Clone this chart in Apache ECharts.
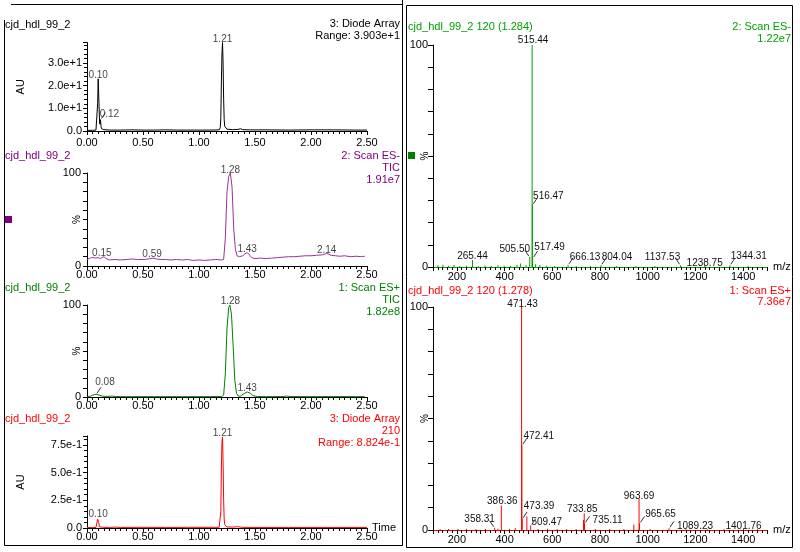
<!DOCTYPE html>
<html><head><meta charset="utf-8">
<script src="https://cdn.jsdelivr.net/npm/echarts@6/dist/echarts.min.js"></script>
<style>html,body{margin:0;padding:0;background:#fff}#c{width:800px;height:552px}</style>
</head><body><div id="c"></div>
<script>
// ---------------- DATA ----------------
// Chromatograms: [time (min), intensity]
const dadTrace = [[0.00,0.3],[0.05,0.3],[0.08,0.4],[0.09,0.8],[0.095,12],[0.100,23],[0.104,17],[0.108,17],[0.112,4],[0.116,3],[0.120,5],[0.125,2],[0.130,1],[0.15,0.6],[0.20,0.4],[0.30,0.4],[0.40,0.5],[0.50,0.4],[0.60,0.4],[0.70,0.5],[0.80,0.4],[0.90,0.4],[1.00,0.4],[1.10,0.4],[1.18,0.5],[1.19,1.5],[1.195,6],[1.200,22],[1.205,34],[1.210,39],[1.215,30],[1.220,14],[1.225,5],[1.23,2],[1.25,0.8],[1.30,0.6],[1.35,0.7],[1.37,1.0],[1.39,0.6],[1.45,0.5],[1.60,0.5],[1.80,0.4],[2.00,0.5],[2.20,0.5],[2.40,0.4],[2.50,0.4]];
const esNegTrace = [[0.00,7],[0.02,8],[0.04,9],[0.06,9],[0.08,8.5],[0.10,9],[0.12,8],[0.15,10],[0.17,8],[0.20,6.5],[0.25,7],[0.30,6.5],[0.35,7],[0.40,7.5],[0.45,7],[0.50,7],[0.55,7.5],[0.59,8.5],[0.62,7.5],[0.66,7],[0.70,7],[0.75,6.5],[0.80,7],[0.85,6.5],[0.90,7],[0.95,6],[1.00,6.5],[1.05,6],[1.10,6.5],[1.15,7],[1.20,6.5],[1.22,7],[1.235,30],[1.25,80],[1.265,96],[1.28,100],[1.295,85],[1.31,40],[1.325,18],[1.34,11],[1.36,10],[1.39,11],[1.41,13],[1.43,14.5],[1.45,12],[1.47,9],[1.50,8],[1.55,8.5],[1.60,8],[1.65,8.5],[1.70,9],[1.75,9.5],[1.80,10],[1.85,10],[1.90,10.5],[1.95,11],[2.00,11],[2.05,11.5],[2.10,12],[2.14,13.5],[2.18,11.5],[2.22,11],[2.26,10.5],[2.30,11],[2.35,10],[2.40,10.5],[2.45,10],[2.48,10.5]];
const esPosTrace = [[0.00,0.3],[0.03,0.8],[0.05,2],[0.08,3],[0.11,2],[0.14,0.8],[0.18,0.6],[0.22,1],[0.26,0.6],[0.30,0.4],[0.40,0.4],[0.50,0.4],[0.60,0.4],[0.70,0.4],[0.80,0.4],[0.90,0.4],[1.00,0.4],[1.10,0.4],[1.20,0.5],[1.22,2],[1.235,25],[1.25,75],[1.265,97],[1.275,100],[1.29,90],[1.305,55],[1.32,18],[1.335,4],[1.35,1],[1.37,1],[1.40,3.5],[1.43,5.5],[1.46,4],[1.48,1.5],[1.52,0.5],[1.60,0.4],[1.75,0.5],[1.78,1],[1.82,0.5],[2.00,0.4],[2.20,0.5],[2.40,0.4],[2.48,0.4]];
const dad210Trace = [[0.00,0.004],[0.05,0.004],[0.08,0.005],[0.09,0.01],[0.095,0.08],[0.100,0.09],[0.105,0.05],[0.110,0.01],[0.15,0.006],[0.20,0.005],[0.25,0.008],[0.30,0.005],[0.50,0.006],[0.70,0.005],[0.90,0.006],[1.10,0.006],[1.18,0.006],[1.19,0.02],[1.195,0.15],[1.200,0.55],[1.205,0.78],[1.210,0.82],[1.215,0.6],[1.220,0.25],[1.225,0.08],[1.23,0.03],[1.25,0.01],[1.30,0.008],[1.35,0.012],[1.38,0.006],[1.50,0.005],[1.80,0.005],[2.10,0.005],[2.50,0.005]];

// Labelled chromatogram peaks: [time, intensity]
const dadPeaks = [[0.10,23],[0.12,5],[1.21,39]];
const esNegPeaks = [[0.15,10],[0.59,8.5],[1.28,100],[1.43,14.5],[2.14,13.5]];
const esPosPeaks = [[0.08,3],[1.28,100],[1.43,5.5]];
const dad210Peaks = [[0.10,0.09],[1.21,0.82]];

// Mass spectra
const negMz  = [120,142,165,188,212,240,265.44,290,318,345,372,398,425,452,467,490,505.50,515.44,516.47,517.49,530,548,575,610,666.13,700,760,804.04,870,950,1030,1137.53,1238.75,1344.31,1420];
const negInt = [0.8,1.0,0.6,0.9,0.5,0.6,3.2,0.5,0.7,0.5,0.8,0.6,0.5,0.9,1.6,0.8,4.5,100,28,4,1.2,0.9,0.6,0.5,1.0,0.4,0.4,0.8,0.4,0.4,0.4,0.8,0.4,0.8,0.4];
const negLabelled = [265.44,505.50,515.44,516.47,517.49,666.13,804.04,1137.53,1238.75,1344.31];

const posMz  = [130,165,205,240,280,320,358.31,372,386.36,420,445,471.43,472.41,473.39,493.40,509.47,540,580,620,660,700,731.0,733.85,735.11,780,840,900,941.8,963.69,965.65,1010,1089.23,1160,1250,1320,1401.76,1460];
const posInt = [0.4,0.5,0.4,0.6,0.4,0.5,1.0,0.6,11,0.6,0.8,100,38,5,6,2,0.5,0.6,0.4,0.5,0.4,4.5,7.5,3,0.5,0.4,0.4,2.5,14,3,0.4,0.8,0.3,0.3,0.3,0.5,0.3];
const posLabelled = [358.31,386.36,471.43,472.41,473.39,509.47,733.85,735.11,963.69,965.65,1089.23,1401.76];

// Axis ticks
const timeTicks = [0, 0.5, 1.0, 1.5, 2.0, 2.5];
const mzRange = [100, 1500];
const yNames = ['AU', '%', '%', 'AU', '%', '%'];
const xNames = ['', '', '', 'Time', 'm/z', 'm/z'];

// ---------------- STYLE / LAYOUT ----------------
const FONT = "'Liberation Sans', Arial, Helvetica, sans-serif";
const PURPLE = '#800080', GREEN = '#008000', RED = '#ff0000', SGREEN = '#00a000';
const LABEL_COL = '#111';

const chromGrids = [
  {left:87, top:42.5, width:280, height:88.5},
  {left:87, top:173, width:280, height:93},
  {left:87, top:305, width:280, height:92},
  {left:87, top:436, width:280, height:92}
];
const specGrids = [
  {left:433, top:45, width:334, height:222},
  {left:433, top:307, width:334, height:223}
];
const allGrids = chromGrids.concat(specGrids);
const yNameOffset = [66, 10, 10, 66, 8, 8];
const xNameGap = [5, 5, 5, 5, 6, 6];

const chromShift = [{'0.12':[9,0]}, {'0.15':[-2,2],'0.59':[-1,2],'1.28':[0,3]}, {'0.08':[9,-6]}, {}];
const specShift = [
  {'265.44':[0,1],'505.50':[-15,-3],'515.44':[1,0],'516.47':[16,-4],'517.49':[17,-6],'666.13':[17,-3],'804.04':[16,-3],'1137.53':[-18,-3],'1238.75':[0,2],'1344.31':[19,-4]},
  {'358.31':[-15,-4],'386.36':[1,1],'471.43':[1,2],'472.41':[17,-4],'473.39':[17,-8],'509.47':[16,2],'733.85':[-2,1],'735.11':[23,2],'963.69':[0,2],'965.65':[21,-4],'1089.23':[26,3],'1401.76':[0,2]}
];
const leaderKeys = [
  {grid:0, mz:[0.12], src:dadPeaks, dir:1},
  {grid:2, mz:[0.08], src:esPosPeaks, dir:1},
];
const specLeaders = [
  {grid:4, list:[[516.47,1],[517.49,1],[505.50,-1],[666.13,1],[804.04,1],[1137.53,-1],[1344.31,1]], mz:negMz, it:negInt},
  {grid:5, list:[[472.41,1],[473.39,1],[358.31,-1],[509.47,1],[735.11,1],[965.65,1],[1089.23,1]], mz:posMz, it:posInt}
];

const tickStyle = {color:'#000', width:1};
function chromX(i) {
  return {
    type:'value', gridIndex:i, min:timeTicks[0], max:timeTicks[timeTicks.length-1], interval:timeTicks[1]-timeTicks[0],
    axisLine:{onZero:false, lineStyle:{color:'#000', width:1}},
    axisTick:{length:4, lineStyle:tickStyle},
    minorTick:{show:true, splitNumber:10, length:3, lineStyle:tickStyle},
    splitLine:{show:false}, minorSplitLine:{show:false},
    axisLabel:{formatter:v=>v.toFixed(2), margin:i===0?6:3, color:'#000', fontSize:11, fontFamily:FONT}
  };
}
function yBase(i, o) {
  return Object.assign({
    type:'value', gridIndex:i, min:0,
    axisLine:{show:true, lineStyle:{color:'#000', width:1}},
    axisTick:{show:true, length:4, lineStyle:tickStyle},
    splitLine:{show:false}
  }, o);
}
const pctFmt = v => (v===0||v===100) ? String(v) : '';
const yAxes = [
  yBase(0, {max:39.03, interval:10, minorTick:{show:true, splitNumber:5, length:3, lineStyle:tickStyle},
    axisLabel:{margin:5, color:'#000', fontSize:11, fontFamily:FONT, formatter:v=>{ if(v===0) return '0.0'; const k=v/10; return Math.abs(k-Math.round(k))<1e-9 ? k.toFixed(1)+'e+1' : ''; }}}),
  yBase(1, {max:100, interval:10, axisLabel:{margin:6, color:'#000', fontSize:11, fontFamily:FONT, formatter:pctFmt}}),
  yBase(2, {max:100, interval:10, axisLabel:{margin:6, color:'#000', fontSize:11, fontFamily:FONT, formatter:pctFmt}}),
  yBase(3, {max:0.83, interval:0.25, minorTick:{show:true, splitNumber:5, length:3, lineStyle:tickStyle},
    axisLabel:{margin:5, color:'#000', fontSize:11, fontFamily:FONT, formatter:v=>{ if(v===0) return '0.0'; const k=v/0.25; return Math.abs(k-Math.round(k))<1e-9 ? (v*10).toFixed(1)+'e-1' : ''; }}}),
  yBase(4, {max:100, interval:10, axisTick:{length:5, lineStyle:tickStyle}, axisLabel:{margin:5, color:'#000', fontSize:11, fontFamily:FONT, formatter:pctFmt}}),
  yBase(5, {max:100, interval:10, axisTick:{length:5, lineStyle:tickStyle}, axisLabel:{margin:5, color:'#000', fontSize:11, fontFamily:FONT, formatter:pctFmt}})
];
function specX(i, col) {
  return {
    type:'value', gridIndex:i, min:mzRange[0], max:mzRange[1], interval:100,
    axisLine:{onZero:false, lineStyle:{color:col, width:1}},
    axisTick:{length:4, lineStyle:tickStyle},
    minorTick:{show:true, splitNumber:5, length:3, lineStyle:tickStyle},
    splitLine:{show:false},
    axisLabel:{formatter:v=>(v%200===0)?String(v):'', margin:4, color:'#000', fontSize:11, fontFamily:FONT}
  };
}

const traces = [dadTrace, esNegTrace, esPosTrace, dad210Trace];
const traceCols = ['#000', '#993399', GREEN, RED];
const peakSets = [dadPeaks, esNegPeaks, esPosPeaks, dad210Peaks];

const series = [];
traces.forEach((tr, i) => {
  series.push({type:'line', xAxisIndex:i, yAxisIndex:i, data:tr, showSymbol:false, symbol:'none',
    lineStyle:{color:traceCols[i], width:1}, z:3, animation:false});
  series.push({type:'scatter', xAxisIndex:i, yAxisIndex:i, symbolSize:1, itemStyle:{color:'rgba(0,0,0,0)'},
    data: peakSets[i].map(p => {
      const key = p[0].toFixed(2);
      const sh = chromShift[i][key] || [0,2];
      return {value:p, label:{offset:sh}};
    }),
    label:{show:true, position:'top', distance:0, formatter:p=>p.value[0].toFixed(2), color:LABEL_COL, fontSize:10, fontFamily:FONT},
    z:4, animation:false, silent:true});
});
function specSeries(gi, mz, it, labelled, col, shifts) {
  return {type:'bar', xAxisIndex:gi, yAxisIndex:gi, barWidth:1, itemStyle:{color:col}, animation:false, z:3,
    data: mz.map((m, k) => {
      const key = m.toFixed(2);
      const lab = labelled.indexOf(m) >= 0;
      return {value:[m, it[k]], label:{show:lab, offset: shifts[key] || [0,0]}};
    }),
    label:{show:false, position:'top', distance:0, formatter:p=>p.value[0].toFixed(2), color:LABEL_COL, fontSize:10, fontFamily:FONT}
  };
}
series.push(specSeries(4, negMz, negInt, negLabelled, SGREEN, specShift[0]));
series.push(specSeries(5, posMz, posInt, posLabelled, RED, specShift[1]));

const chart = echarts.init(document.getElementById('c'), null, {renderer:'canvas'});
chart.setOption({
  animation:false,
  backgroundColor:'#fff',
  grid: allGrids,
  xAxis: [chromX(0), chromX(1), chromX(2), chromX(3), specX(4, SGREEN), specX(5, RED)],
  yAxis: yAxes,
  series: series
});

// ---------------- GRAPHICS (text, frames, leader lines) ----------------
const texts = [
  [5,25,'cjd_hdl_99_2','#000','left'], [400,24,'3: Diode Array','#000','right'], [400,36,'Range: 3.903e+1','#000','right'],
  [5,156,'cjd_hdl_99_2',PURPLE,'left'], [400,156,'2: Scan ES-',PURPLE,'right'], [400,168,'TIC',PURPLE,'right'], [400,180,'1.91e7',PURPLE,'right'],
  [5,288,'cjd_hdl_99_2',GREEN,'left'], [400,288,'1: Scan ES+',GREEN,'right'], [400,300,'TIC',GREEN,'right'], [400,312,'1.82e8',GREEN,'right'],
  [5,419,'cjd_hdl_99_2',RED,'left'], [400,419,'3: Diode Array',RED,'right'], [400,431,'210',RED,'right'], [400,443,'Range: 8.824e-1',RED,'right'],
  [408,27,'cjd_hdl_99_2 120 (1.284)',SGREEN,'left'], [791,27,'2: Scan ES-',SGREEN,'right'], [791,39,'1.22e7',SGREEN,'right'],
  [408,291,'cjd_hdl_99_2 120 (1.278)',RED,'left'], [791,291,'1: Scan ES+',RED,'right'], [791,302,'7.36e7',RED,'right']
];
const els = [];
texts.forEach((t, k) => els.push({type:'text', id:'t'+k, x:t[0], y:t[1], z:10,
  style:{text:t[2], fill:t[3], font:'11px ' + FONT, textAlign:t[4], textVerticalAlign:'middle'}}));
// rotated y-axis names and x-axis end names, positioned from grid geometry
allGrids.forEach((g, k) => {
  els.push({type:'text', id:'yn'+k, z:10,
    x:g.left - yNameOffset[k], y:g.top + g.height/2, rotation:Math.PI/2,
    style:{text:yNames[k], fill:'#000', font:(yNames[k]==='%'?'10px ':'11px ') + FONT, textAlign:'center', textVerticalAlign:'middle'}});
  if (xNames[k]) els.push({type:'text', id:'xn'+k, z:10,
    x:g.left + g.width + xNameGap[k], y:g.top + g.height,
    style:{text:xNames[k], fill:'#000', font:'11px ' + FONT, textAlign:'left', textVerticalAlign:'middle'}});
});
els.push({type:'polyline', id:'frameL', z:10, shape:{points:[[11,4.5],[402.5,4.5],[402.5,545.5],[4.5,545.5],[4.5,20]]}, style:{stroke:'#000', lineWidth:1, fill:null}});
els.push({type:'line', id:'frameLx', z:10, shape:{x1:402.5,y1:0,x2:402.5,y2:5}, style:{stroke:'#000', lineWidth:1}});
els.push({type:'rect', id:'frameR', z:10, shape:{x:406.5,y:5.5,width:386,height:542}, style:{stroke:'#000', lineWidth:1, fill:null}});
els.push({type:'rect', id:'sqP', z:10, shape:{x:5,y:216,width:7,height:7}, style:{fill:PURPLE}});
els.push({type:'rect', id:'sqG', z:10, shape:{x:408,y:152,width:7,height:7}, style:{fill:GREEN}});

let li = 0;
function leader(gi, x, y, dir) {
  const p = chart.convertToPixel({gridIndex:gi}, [x, y]);
  els.push({type:'line', id:'ld'+(li++), z:9, shape:{x1:p[0]+dir*1, y1:p[1]-1, x2:p[0]+dir*5, y2:p[1]-7}, style:{stroke:'#333', lineWidth:1}});
}
leaderKeys.forEach(L => L.mz.forEach(t => { const p = L.src.find(q => q[0]===t); leader(L.grid, p[0], p[1], L.dir); }));
specLeaders.forEach(S => S.list.forEach(([m, dir]) => { const k = S.mz.indexOf(m); leader(S.grid, m, S.it[k], dir); }));

chart.setOption({graphic:{elements:els}});
</script>
</body></html>
